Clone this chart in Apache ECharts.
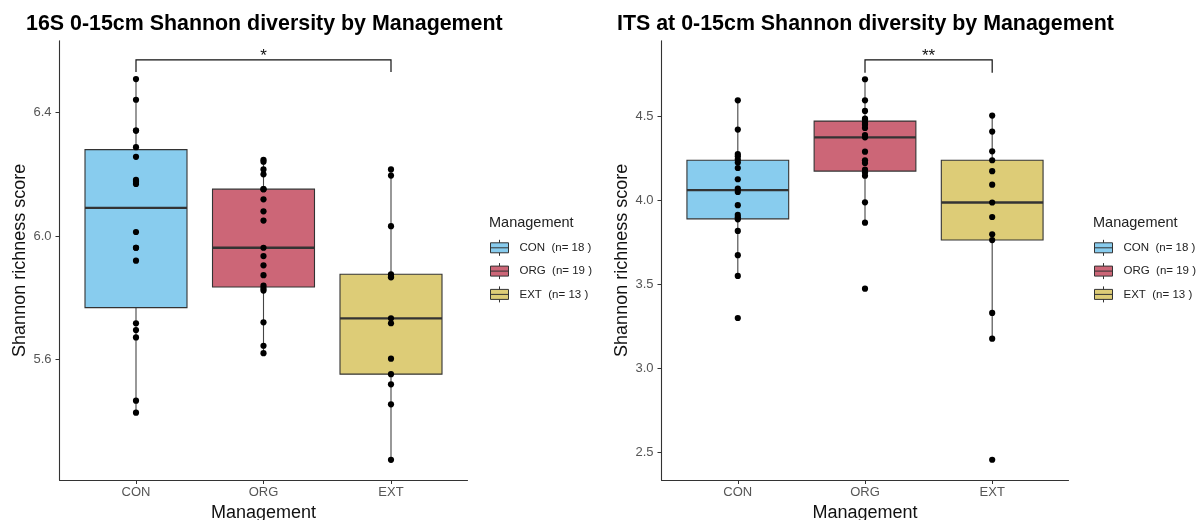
<!DOCTYPE html>
<html>
<head>
<meta charset="utf-8">
<script src="https://cdn.jsdelivr.net/npm/echarts@6/dist/echarts.min.js"></script>
<style>
  html, body { margin: 0; padding: 0; background: #fff; }
  #chart { width: 1201px; height: 520px; }
</style>
</head>
<body>
<div id="chart"></div>
<script>
// Management groups and their fill colours
const groups = ['CON', 'ORG', 'EXT'];
const groupColors = ['#88CCEE', '#CC6677', '#DDCC77'];

// 16S (bacteria), 0-15 cm: Shannon index per sample
const bac_CON = [5.427, 5.466, 5.671, 5.695, 5.717, 5.920, 5.962, 5.962, 6.013,
                 6.169, 6.176, 6.182, 6.257, 6.288, 6.342, 6.342, 6.442, 6.509];
const bac_ORG = [5.620, 5.644, 5.720, 5.823, 5.830, 5.839, 5.873, 5.905, 5.935, 5.962,
                 6.050, 6.080, 6.119, 6.152, 6.152, 6.200, 6.216, 6.241, 6.247];
const bac_EXT = [5.274, 5.454, 5.519, 5.552, 5.602, 5.717, 5.733, 5.866, 5.868, 5.876,
                 6.032, 6.196, 6.216];

// ITS (fungi), 0-15 cm: Shannon index per sample
const fun_CON = [3.300, 3.550, 3.673, 3.817, 3.886, 3.898, 3.912, 3.970, 4.049,
                 4.069, 4.124, 4.191, 4.223, 4.242, 4.261, 4.274, 4.419, 4.593];
const fun_ORG = [3.474, 3.866, 3.987, 4.145, 4.164, 4.181, 4.221, 4.237, 4.288, 4.373,
                 4.387, 4.429, 4.448, 4.460, 4.479, 4.484, 4.530, 4.593, 4.718];
const fun_EXT = [2.458, 3.177, 3.330, 3.763, 3.797, 3.900, 3.986, 4.092, 4.172, 4.237,
                 4.290, 4.407, 4.502];

// y-axis tick labels
const ticks16S = [5.6, 6.0, 6.4];
const ticksITS = [2.5, 3.0, 3.5, 4.0, 4.5];

// pairwise significance: [group A, group B, stars]
const sig16S = ['CON', 'EXT', '*'];
const sigITS = ['ORG', 'EXT', '**'];

const FONT = '"Liberation Sans", Arial, Helvetica, sans-serif';
const INK = '#333333';

// R type-7 quantile
function quantile(sorted, p) {
  const h = (sorted.length - 1) * p;
  const lo = Math.floor(h);
  const hi = Math.min(lo + 1, sorted.length - 1);
  return sorted[lo] + (h - lo) * (sorted[hi] - sorted[lo]);
}

// Tukey box statistics: [x, lowWhisker, q1, median, q3, highWhisker]
function boxStats(values, x) {
  const s = values.slice().sort((a, b) => a - b);
  const q1 = quantile(s, 0.25), med = quantile(s, 0.5), q3 = quantile(s, 0.75);
  const iqr = q3 - q1;
  const inside = s.filter(v => v >= q1 - 1.5 * iqr && v <= q3 + 1.5 * iqr);
  return [x, inside[0], q1, med, q3, inside[inside.length - 1]];
}

function renderBox(color) {
  return function (params, api) {
    const x = api.value(0);
    const lo = api.coord([x, api.value(1)]);
    const q1 = api.coord([x, api.value(2)]);
    const md = api.coord([x, api.value(3)]);
    const q3 = api.coord([x, api.value(4)]);
    const hi = api.coord([x, api.value(5)]);
    const half = api.size([0.8, 0])[0] / 2;
    const cx = q1[0];
    return {
      type: 'group',
      children: [
        { type: 'line', shape: { x1: cx, y1: hi[1], x2: cx, y2: q3[1] },
          style: { stroke: '#444', lineWidth: 1.1 } },
        { type: 'line', shape: { x1: cx, y1: q1[1], x2: cx, y2: lo[1] },
          style: { stroke: '#444', lineWidth: 1.1 } },
        { type: 'rect', shape: { x: cx - half, y: q3[1], width: half * 2, height: q1[1] - q3[1] },
          style: { fill: color, stroke: INK, lineWidth: 1.1 } },
        { type: 'line', shape: { x1: cx - half, y1: md[1], x2: cx + half, y2: md[1] },
          style: { stroke: INK, lineWidth: 2.3 } }
      ]
    };
  };
}

function renderBracket(label) {
  return function (params, api) {
    const a = api.coord([api.value(0), api.value(2)]);
    const b = api.coord([api.value(1), api.value(2)]);
    const ta = api.coord([api.value(0), api.value(3)]);
    return {
      type: 'group',
      children: [
        { type: 'polyline',
          shape: { points: [[a[0], ta[1]], [a[0], a[1]], [b[0], b[1]], [b[0], ta[1]]] },
          style: { stroke: '#111', lineWidth: 1.2, fill: null } },
        { type: 'text', x: (a[0] + b[0]) / 2, y: a[1] - 4,
          style: { text: label, fill: '#111', fontSize: 17, fontFamily: FONT,
                   align: 'center', verticalAlign: 'middle' } }
      ]
    };
  };
}

const panels = [
  { title: '16S 0-15cm Shannon diversity by Management',
    data: [bac_CON, bac_ORG, bac_EXT], ticks: ticks16S, sig: sig16S,
    grid: { left: 59.5, top: 40.7, width: 408, height: 439.3 },
    yMin: 5.2086, yMax: 6.6335, bracketTop: 6.571, bracketTip: 6.532,
    titleLeft: 26, legendLeft: 490 },
  { title: 'ITS at 0-15cm Shannon diversity by Management',
    data: [fun_CON, fun_ORG, fun_EXT], ticks: ticksITS, sig: sigITS,
    grid: { left: 661.5, top: 40.7, width: 407, height: 439.3 },
    yMin: 2.3378, yMax: 4.947, bracketTop: 4.833, bracketTip: 4.757,
    titleLeft: 617, legendLeft: 1094 }
];

const legendName = (g, vals) => g + '  (n= ' + vals.length + ' )';

const option = {
  animation: false,
  backgroundColor: '#ffffff',
  title: [], grid: [], xAxis: [], yAxis: [], series: [], legend: []
};

panels.forEach((p, pi) => {
  option.title.push({
    text: p.title, left: p.titleLeft, top: 13.5, padding: 0,
    textStyle: { fontSize: 21.4, fontWeight: 'bold', color: '#000', fontFamily: FONT }
  });
  option.title.push({
    text: 'Management', left: p.legendLeft - 1, top: 215, padding: 0,
    textStyle: { fontSize: 14.5, fontWeight: 'normal', color: '#222', fontFamily: FONT }
  });
  option.grid.push(Object.assign({ containLabel: false, outerBoundsMode: 'none' }, p.grid));
  option.xAxis.push({
    type: 'value', gridIndex: pi, min: 0.4, max: 3.6,
    name: 'Management', nameLocation: 'middle', nameGap: 19,
    nameTextStyle: { fontSize: 18, color: '#111', fontFamily: FONT },
    axisLine: { show: true, onZero: false, lineStyle: { color: INK, width: 1.1 } },
    axisTick: { show: true, length: 4, customValues: [1, 2, 3], lineStyle: { color: INK } },
    axisLabel: { customValues: [1, 2, 3], margin: 6, fontSize: 13, color: '#555', fontFamily: FONT,
                 formatter: v => groups[Math.round(v) - 1] },
    splitLine: { show: false }
  });
  option.yAxis.push({
    type: 'value', gridIndex: pi, min: p.yMin, max: p.yMax,
    name: 'Shannon richness score', nameLocation: 'middle', nameGap: 27.5,
    nameTextStyle: { fontSize: 18, color: '#111', fontFamily: FONT },
    axisLine: { show: true, onZero: false, lineStyle: { color: INK, width: 1.1 } },
    axisTick: { show: true, length: 4, customValues: p.ticks, lineStyle: { color: INK } },
    axisLabel: { customValues: p.ticks, margin: 8, fontSize: 13, color: '#555', fontFamily: FONT,
                 formatter: v => v.toFixed(1) },
    splitLine: { show: false }
  });

  const legendData = [];
  groups.forEach((g, gi) => {
    const name = legendName(g, p.data[gi]);
    option.series.push({
      type: 'custom', name: name, xAxisIndex: pi, yAxisIndex: pi, z: 2,
      renderItem: renderBox(groupColors[gi]),
      itemStyle: { color: groupColors[gi], borderColor: INK, borderWidth: 1 },
      encode: { x: 0, y: [1, 2, 3, 4, 5] },
      data: [boxStats(p.data[gi], gi + 1)]
    });
    legendData.push({
      name: name,
      icon: 'path://M0,3H18V13H0Z M0,8H18 M9,0V3 M9,13V16',
      itemStyle: { color: groupColors[gi], borderColor: INK, borderWidth: 1 }
    });
  });

  // individual samples
  const pts = [];
  groups.forEach((g, gi) => p.data[gi].forEach(v => pts.push([gi + 1, v])));
  option.series.push({
    type: 'scatter', xAxisIndex: pi, yAxisIndex: pi, z: 5,
    symbol: 'circle', symbolSize: 6.2,
    itemStyle: { color: '#000', opacity: 1 },
    data: pts
  });

  // significance bracket
  const a = groups.indexOf(p.sig[0]) + 1, b = groups.indexOf(p.sig[1]) + 1;
  option.series.push({
    type: 'custom', xAxisIndex: pi, yAxisIndex: pi, z: 6,
    renderItem: renderBracket(p.sig[2]),
    encode: { x: [0, 1], y: [2, 3] },
    data: [[a, b, p.bracketTop, p.bracketTip]]
  });

  option.legend.push({
    orient: 'vertical', left: p.legendLeft, top: 239.3, padding: 0,
    itemWidth: 18, itemHeight: 16, itemGap: 6.3, selectedMode: false,
    textStyle: { fontSize: 11.5, color: '#222', fontFamily: FONT, padding: [0, 0, 0, 6] },
    data: legendData
  });
});

const chart = echarts.init(document.getElementById('chart'), null, { renderer: 'canvas' });
chart.setOption(option);
</script>
</body>
</html>
